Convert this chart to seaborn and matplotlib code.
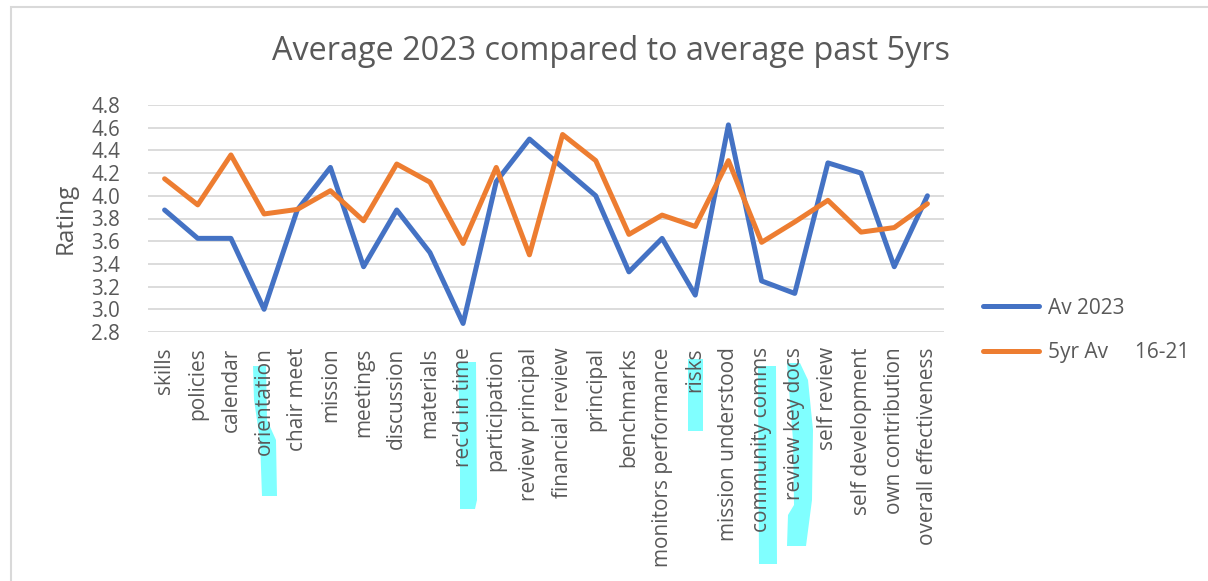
import matplotlib
matplotlib.use("Agg")
import matplotlib.pyplot as plt
import seaborn as sns
import pandas as pd
from matplotlib.patches import Polygon, Rectangle

categories = ["skills", "policies", "calendar", "orientation", "chair meet", "mission",
              "meetings", "discussion", "materials", "rec'd in time", "participation",
              "review principal", "financial review", "principal", "benchmarks",
              "monitors performance", "risks", "mission understood", "community comms",
              "review key docs", "self review", "self development", "own contribution",
              "overall effectiveness"]
av_2023 = [3.875, 3.625, 3.625, 3.0, 3.875, 4.25, 3.375, 3.875, 3.5, 2.875, 4.125,
           4.5, 4.25, 4.0, 3.33, 3.625, 3.125, 4.625, 3.25, 3.14, 4.29, 4.2, 3.375, 4.0]
av_5yr = [4.15, 3.92, 4.36, 3.84, 3.88, 4.045, 3.78, 4.28, 4.12, 3.58, 4.25,
          3.48, 4.54, 4.31, 3.66, 3.83, 3.73, 4.31, 3.59, 3.77, 3.96, 3.68, 3.72, 3.93]
series_names = ["Av 2023", "5yr Av     16-21"]
yticks = [2.8, 3.0, 3.2, 3.4, 3.6, 3.8, 4.0, 4.2, 4.4, 4.6, 4.8]

df = pd.DataFrame({
    "category": categories * 2,
    "rating": av_2023 + av_5yr,
    "series": [series_names[0]] * len(categories) + [series_names[1]] * len(categories),
})

sns.set_style("white")
plt.rcParams["font.family"] = ["Open Sans", "DejaVu Sans"]
TXT = "#595959"

W, H = 1208, 581
fig = plt.figure(figsize=(W / 100, H / 100), dpi=100)
fig.patch.set_facecolor("white")

# outer chart frame
fig.add_artist(Rectangle((11 / W, -0.05), 1.2, 1 - 7 / H + 0.05, transform=fig.transFigure,
                         fill=False, edgecolor="#D9D9D9", linewidth=1.5, zorder=-2))

# highlighter marks behind tick labels
def px(pts):
    return [(x / W, 1 - y / H) for x, y in pts]

hl = "#80FFFF"
marks = [
    [(253, 366), (266, 366), (267, 420), (276, 440), (277, 496), (262, 496), (260, 440), (254, 400)],
    [(458, 362), (476, 362), (477, 500), (475, 509), (460, 509), (460, 440)],
    [(688, 359), (703, 359), (703, 431), (688, 431)],
    [(758, 366), (776, 366), (777, 564), (759, 564)],
    [(787, 363), (800, 363), (808, 380), (813, 430), (812, 500), (806, 546), (787, 546),
     (788, 515), (794, 505), (793, 440)],
]
for m in marks:
    fig.add_artist(Polygon(px(m), closed=True, transform=fig.transFigure,
                           facecolor=hl, edgecolor="none", zorder=-1))

ax = fig.add_axes([148 / W, 1 - 332 / H, 796 / W, 227 / H])
ax.set_facecolor("none")

sns.lineplot(data=df, x="category", y="rating", hue="series", sort=False,
             palette=["#4472C4", "#ED7D31"], linewidth=3.6, ax=ax, legend=True)
for ln in ax.lines:
    ln.set_solid_capstyle("round")
    ln.set_solid_joinstyle("round")

ax.set_xlim(-0.5, len(categories) - 0.5)
ax.set_ylim(2.8, 4.8)
ax.set_yticks(yticks)
ax.set_yticklabels([f"{v:.1f}" for v in yticks], fontsize=14.8, color=TXT)
ax.set_xticks(range(len(categories)))
ax.set_xticklabels(categories, rotation=90, fontsize=15, color=TXT, va="top")
ax.tick_params(axis="both", length=0)
ax.tick_params(axis="y", pad=20)
ax.tick_params(axis="x", pad=11)
ax.yaxis.grid(True, color="#D9D9D9", linewidth=1.3)
ax.set_axisbelow(True)
for s in ax.spines.values():
    s.set_visible(False)
ax.set_xlabel("")
ax.set_ylabel("Rating", fontsize=17.5, color=TXT, labelpad=10)

leg = ax.legend(loc="center left", bbox_to_anchor=(983 / W, 1 - 330.5 / H),
                bbox_transform=fig.transFigure, frameon=False,
                fontsize=15, handlelength=2.7, handletextpad=0.43, labelspacing=1.15,
                borderaxespad=0, borderpad=0)
for t in leg.get_texts():
    t.set_color(TXT)
for h in leg.legend_handles:
    h.set_linewidth(3.6)

fig.text(611 / W, 1 - 51 / H, "Average 2023 compared to average past 5yrs",
         ha="center", va="center", fontsize=23.3, color=TXT)

fig.savefig("out.png", dpi=100, facecolor="white")
